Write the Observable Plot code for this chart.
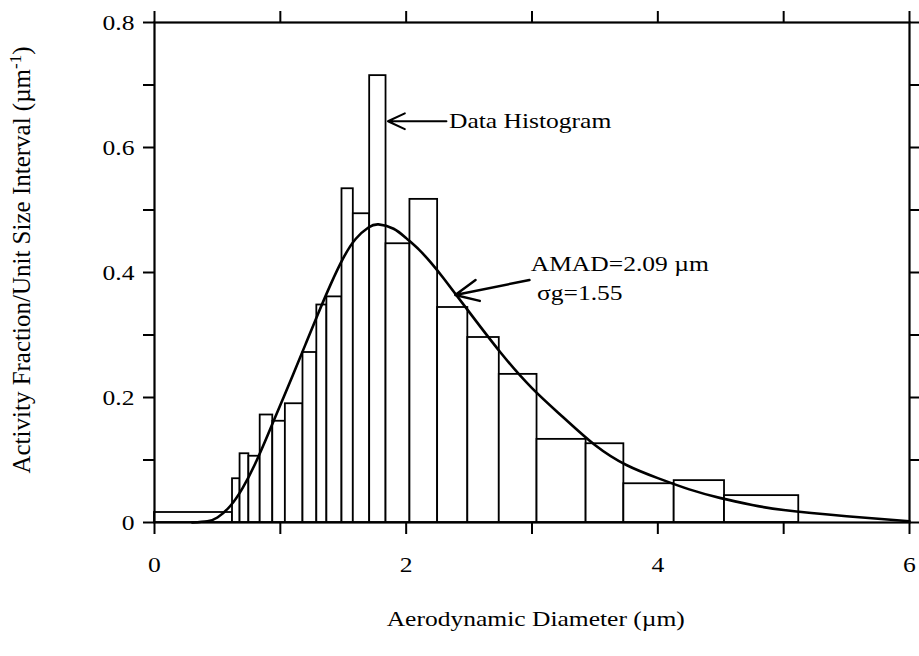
<!DOCTYPE html>
<html>
<head>
<meta charset="utf-8">
<script src="https://cdn.jsdelivr.net/npm/d3@7"></script>
<script src="https://cdn.jsdelivr.net/npm/@observablehq/plot@0.6"></script>
<style>
  html, body { margin: 0; padding: 0; background: #fff; }
</style>
</head>
<body>
<div id="chart"></div>
<script>
// Histogram bins (aerodynamic diameter, µm) and heights (activity fraction / unit size)
const binStart = [0.00, 0.62, 0.68, 0.75, 0.84, 0.94, 1.04, 1.18, 1.29, 1.37, 1.49, 1.58, 1.71, 1.84, 2.03, 2.25, 2.49, 2.74, 3.04, 3.43, 3.73, 4.13, 4.53];
const binEnd   = [0.62, 0.68, 0.75, 0.84, 0.94, 1.04, 1.18, 1.29, 1.37, 1.49, 1.58, 1.71, 1.84, 2.03, 2.25, 2.49, 2.74, 3.04, 3.43, 3.73, 4.13, 4.53, 5.12];
const binValue = [0.016, 0.070, 0.110, 0.106, 0.172, 0.162, 0.190, 0.272, 0.348, 0.361, 0.534, 0.494, 0.715, 0.446, 0.517, 0.344, 0.296, 0.237, 0.133, 0.126, 0.062, 0.067, 0.043];

// Fitted lognormal curve
const curveX = [0.30, 0.42, 0.50, 0.60, 0.70, 0.80, 0.90, 1.00, 1.10, 1.20, 1.30, 1.40, 1.50, 1.60, 1.70, 1.78, 1.90, 2.00, 2.10, 2.20, 2.30, 2.50, 2.75, 3.00, 3.25, 3.50, 3.75, 4.00, 4.25, 4.50, 4.75, 5.00, 5.50, 6.00];
const curveY = [0.000, 0.002, 0.008, 0.026, 0.055, 0.094, 0.140, 0.188, 0.236, 0.285, 0.334, 0.381, 0.423, 0.454, 0.472, 0.477, 0.470, 0.455, 0.437, 0.415, 0.390, 0.337, 0.272, 0.215, 0.168, 0.124, 0.092, 0.071, 0.053, 0.039, 0.028, 0.020, 0.010, 0.002];

// Axis ticks and labels
const xTicks = [0, 1, 2, 3, 4, 5, 6];
const xTickLabels = ["0", "", "2", "", "4", "", "6"];
const yTicks = [0, 0.1, 0.2, 0.3, 0.4, 0.5, 0.6, 0.7, 0.8];
const yTickLabels = ["0", "", "0.2", "", "0.4", "", "0.6", "", "0.8"];

// Texts
const xTitle = "Aerodynamic Diameter (µm)";
const yTitle = "Activity Fraction/Unit Size Interval (µm-1)";
const histNote = "Data Histogram";
const amadNote = "AMAD=2.09 µm";
const sigmaNote = "σg=1.55";

const bars = binStart.map((s, i) => ({x1: s, x2: binEnd[i], y: binValue[i]}));
const curve = curveX.map((x, i) => ({x, y: curveY[i]}));
const xLab = new Map(xTicks.map((t, i) => [t, xTickLabels[i]]));
const yLab = new Map(yTicks.map((t, i) => [t, yTickLabels[i]]));

const FONT = "Liberation Serif, Times New Roman, serif";

const chart = Plot.plot({
  width: 919,
  height: 656,
  marginLeft: 154,
  marginRight: 10,
  marginTop: 22,
  marginBottom: 134,
  x: {domain: [0, 6]},
  y: {domain: [0, 0.8]},
  style: {fontFamily: FONT, fontSize: "22px", color: "black", background: "white", overflow: "visible"},
  marks: [
    Plot.rectY(bars, {x1: "x1", x2: "x2", y: "y", fill: "white", stroke: "black", strokeWidth: 1.8}),
    Plot.line(curve, {x: "x", y: "y", curve: "natural", stroke: "black", strokeWidth: 2.6}),
    Plot.frame({stroke: "black", strokeWidth: 2.2}),
    Plot.axisX({ticks: xTicks, tickSize: 12, tickPadding: 22, strokeWidth: 2, tickFormat: d => xLab.get(d), label: null, fontSize: 22}),
    Plot.axisX({anchor: "top", ticks: xTicks, tickSize: 12, strokeWidth: 2, tickFormat: () => "", label: null}),
    Plot.axisY({ticks: yTicks, tickSize: 11, tickPadding: 9, strokeWidth: 2, tickFormat: d => yLab.get(d), label: null, fontSize: 22}),
    Plot.axisY({anchor: "right", ticks: yTicks, tickSize: 10, strokeWidth: 2, tickFormat: () => "", label: null}),
    Plot.arrow([{x1: 2.32, y1: 0.642, x2: 1.855, y2: 0.642}], {x1: "x1", y1: "y1", x2: "x2", y2: "y2", stroke: "black", strokeWidth: 2, headLength: 14, headAngle: 50}),
    Plot.arrow([{x1: 2.98, y1: 0.388, x2: 2.39, y2: 0.364}], {x1: "x1", y1: "y1", x2: "x2", y2: "y2", stroke: "black", strokeWidth: 2.4, headLength: 16, headAngle: 50}),
    Plot.text([histNote], {x: 2.34, y: 0.642, text: d => d, textAnchor: "start", fontSize: 22, fill: "black"}),
    Plot.text([amadNote], {x: 2.99, y: 0.413, text: d => d, textAnchor: "start", fontSize: 22, fill: "black"}),
    Plot.text([sigmaNote], {x: 3.04, y: 0.368, text: d => d, textAnchor: "start", fontSize: 22, fill: "black"}),
    Plot.text([xTitle], {x: 3.03, y: -0.154, text: d => d, textAnchor: "middle", fontSize: 22, fill: "black"}),
    Plot.text([yTitle], {x: -1.05, y: 0.42, text: d => d, rotate: -90, textAnchor: "middle", fontSize: 25, fill: "black"})
  ]
});

document.getElementById("chart").append(chart);

// Post-process: superscript in y title; slight horizontal stretch of horizontal texts (as in the reference scan)
const STRETCH = 1.16;
chart.querySelectorAll("text").forEach(t => {
  const s = t.textContent;
  if (s === yTitle) {
    t.textContent = "";
    const ns = "http://www.w3.org/2000/svg";
    const a = document.createElementNS(ns, "tspan");
    a.textContent = "Activity Fraction/Unit Size Interval (µm";
    const b = document.createElementNS(ns, "tspan");
    b.textContent = "-1";
    b.setAttribute("dy", "-9");
    b.setAttribute("font-size", "17");
    const c = document.createElementNS(ns, "tspan");
    c.textContent = ")";
    c.setAttribute("dy", "9");
    t.append(a, b, c);
    return;
  }
  if (!s) return;
  try {
    const len = t.getComputedTextLength();
    if (len > 0) {
      t.setAttribute("textLength", (len * STRETCH).toFixed(1));
      t.setAttribute("lengthAdjust", "spacingAndGlyphs");
    }
  } catch (e) {}
});
</script>
</body>
</html>
